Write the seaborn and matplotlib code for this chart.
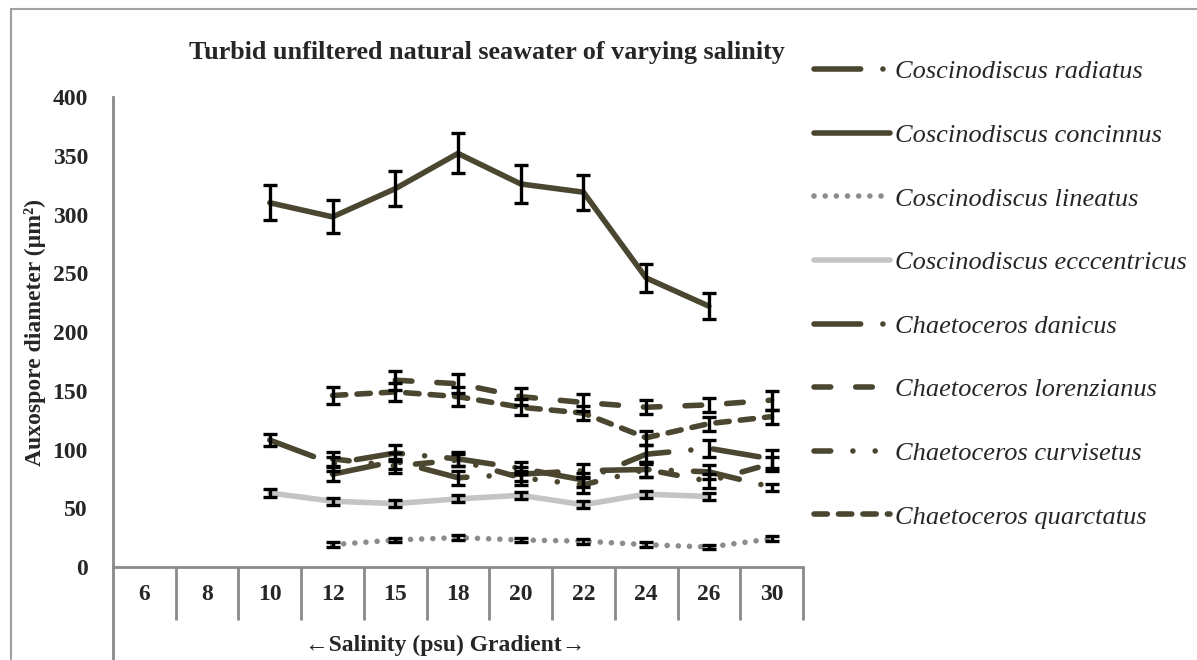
import numpy as np
import pandas as pd
import matplotlib
matplotlib.use("Agg")
import matplotlib.pyplot as plt
from matplotlib.lines import Line2D
import seaborn as sns

nan = np.nan

# Salinity categories (psu)
salinity = ["6", "8", "10", "12", "15", "18", "20", "22", "24", "26", "30"]

species = [
    "Coscinodiscus radiatus",
    "Coscinodiscus concinnus",
    "Coscinodiscus lineatus",
    "Coscinodiscus ecccentricus",
    "Chaetoceros danicus",
    "Chaetoceros lorenzianus",
    "Chaetoceros curvisetus",
    "Chaetoceros quarctatus",
]

# Mean auxospore diameter per salinity
c_radiatus    = [nan, nan, 108, 88, 97, 92, 84, 74, 96, 101, 92]
c_concinnus   = [nan, nan, 310, 298, 322, 352, 326, 319, 246, 222, nan]
c_lineatus    = [nan, nan, nan, 19, 23, 25, 23, 22, 19, 17, 24]
c_eccentricus = [nan, nan, 63, 56, 54, 58, 61, 53, 62, 60, nan]
ch_danicus    = [nan, nan, nan, 79, 90, 76, 79, 82, 83, 81, 68]
ch_lorenz     = [nan, nan, nan, nan, 159, 156, 145, 140, 136, 138, 142]
ch_curviset   = [nan, nan, nan, 92, 86, 91, 76, 70, 83, 73, 88]
ch_quarct     = [nan, nan, nan, 146, 149, 145, 136, 131, 110, 122, 128]

# Standard deviations
sd_radiatus    = [nan, nan, 5, 6, 7, 6, 5, 6, 8, 7, 8]
sd_concinnus   = [nan, nan, 15, 14, 15, 17, 16, 15, 12, 11, nan]
sd_lineatus    = [nan, nan, nan, 2, 2, 2, 2, 2, 2, 2, 2]
sd_eccentricus = [nan, nan, 3, 3, 3, 3, 3, 3, 3, 3, nan]
sd_danicus     = [nan, nan, nan, 6, 7, 6, 6, 6, 6, 6, 3]
sd_lorenz      = [nan, nan, nan, nan, 8, 8, 7, 7, 6, 6, 8]
sd_curviset    = [nan, nan, nan, 6, 6, 5, 6, 7, 6, 6, 6]
sd_quarct      = [nan, nan, nan, 7, 8, 8, 7, 6, 6, 6, 6]

means = [c_radiatus, c_concinnus, c_lineatus, c_eccentricus,
         ch_danicus, ch_lorenz, ch_curviset, ch_quarct]
sds = [sd_radiatus, sd_concinnus, sd_lineatus, sd_eccentricus,
       sd_danicus, sd_lorenz, sd_curviset, sd_quarct]

OLIVE = "#4a4630"
palette = {
    species[0]: OLIVE,
    species[1]: OLIVE,
    species[2]: "#8c8c8c",
    species[3]: "#c4c4c4",
    species[4]: OLIVE,
    species[5]: OLIVE,
    species[6]: OLIVE,
    species[7]: OLIVE,
}
dashes = {
    species[0]: (8.4, 4, 0.01, 4),
    species[1]: "",
    species[2]: (0.01, 2.0),
    species[3]: "",
    species[4]: (8.4, 4, 0.01, 4),
    species[5]: (3, 4.5),
    species[6]: (3, 4, 0.01, 4, 0.01, 4),
    species[7]: (2.4, 2),
}

rows = []
for sp, m, s in zip(species, means, sds):
    for i, (v, e) in enumerate(zip(m, s)):
        if not np.isnan(v):
            rows.append({"species": sp, "pos": i, "value": v, "sd": e})
df = pd.DataFrame(rows)

sns.set_style("white")
plt.rcParams["font.family"] = ["Liberation Serif", "DejaVu Serif"]
plt.rcParams["lines.dash_capstyle"] = "round"
plt.rcParams["lines.solid_capstyle"] = "round"

fig = plt.figure(figsize=(11.97, 6.6), dpi=100)
ax = fig.add_axes([0.0944, 0.1409, 0.5764, 0.7121])

LW = 4.0
sns.lineplot(data=df, x="pos", y="value", hue="species", style="species",
             hue_order=species, style_order=species, palette=palette,
             dashes=dashes, linewidth=LW, legend=False, sort=True,
             errorbar=None, ax=ax, zorder=2)

for sp in species:
    d = df[df["species"] == sp]
    ax.errorbar(d["pos"], d["value"], yerr=d["sd"], fmt="none",
                ecolor="black", elinewidth=2.4, capsize=5, capthick=2.4,
                zorder=3)

ax.set_xlim(-0.5, len(salinity) - 0.5)
ax.set_ylim(0, 400)
ax.set_yticks(np.arange(0, 401, 50))
ax.set_xticks(range(len(salinity)))
ax.set_xticklabels(salinity)
ax.set_xlabel("")
ax.set_ylabel("")

GREY = "#8a8a8a"
for side in ("top", "right"):
    ax.spines[side].set_visible(False)
for side in ("left", "bottom"):
    ax.spines[side].set_color(GREY)
    ax.spines[side].set_linewidth(2)

ax.tick_params(axis="y", direction="out", length=7, width=1.5, color=GREY,
               pad=11, labelsize=17)
ax.tick_params(axis="x", length=0, pad=12, labelsize=17)
for lab in ax.get_xticklabels() + ax.get_yticklabels():
    lab.set_fontweight("bold")

# Category dividers and extended value axis below the plot area
trans = ax.get_xaxis_transform()
for b in np.arange(-0.5, len(salinity), 1.0)[1:]:
    ax.add_line(Line2D([b, b], [0, -0.113], transform=trans, color=GREY,
                       lw=2, clip_on=False, solid_capstyle="butt"))
ax.add_line(Line2D([0, 0], [0, -0.2], transform=ax.transAxes, color=GREY,
                   lw=2, clip_on=False, solid_capstyle="butt"))

# Outer chart border
fig.add_artist(Line2D([11 / 1197, 11 / 1197], [0, 1 - 9 / 660],
                      transform=fig.transFigure, color="#a0a0a0", lw=1.5))
fig.add_artist(Line2D([11 / 1197, 1], [1 - 9 / 660, 1 - 9 / 660],
                      transform=fig.transFigure, color="#a0a0a0", lw=1.5))

fig.text(487 / 1197, 1 - 53 / 660,
         "Turbid unfiltered natural seawater of varying salinity",
         ha="center", va="center", fontsize=18.8, fontweight="bold")
fig.text(35 / 1197, 1 - 332 / 660, "Auxospore diameter (µm²)",
         rotation=90, ha="center", va="center", fontsize=17,
         fontweight="bold")
fig.text(445 / 1197, 1 - 645 / 660, "←Salinity (psu) Gradient→",
         ha="center", va="center", fontsize=17, fontweight="bold",
         family=["Liberation Serif", "DejaVu Sans"])

handles = [Line2D([], [], color=palette[sp], lw=LW,
                  dashes=(dashes[sp] if dashes[sp] else (None, None)))
           for sp in species]
leg = ax.legend(handles, species, loc="upper left",
                bbox_to_anchor=(814 / 1197, 1 - 60 / 660),
                bbox_transform=fig.transFigure, frameon=False,
                prop={"family": "Liberation Serif", "style": "italic",
                      "size": 19},
                handlelength=2.88, handletextpad=0.2, labelspacing=1.52,
                borderpad=0, borderaxespad=0)

fig.savefig("out.png", dpi=100)
